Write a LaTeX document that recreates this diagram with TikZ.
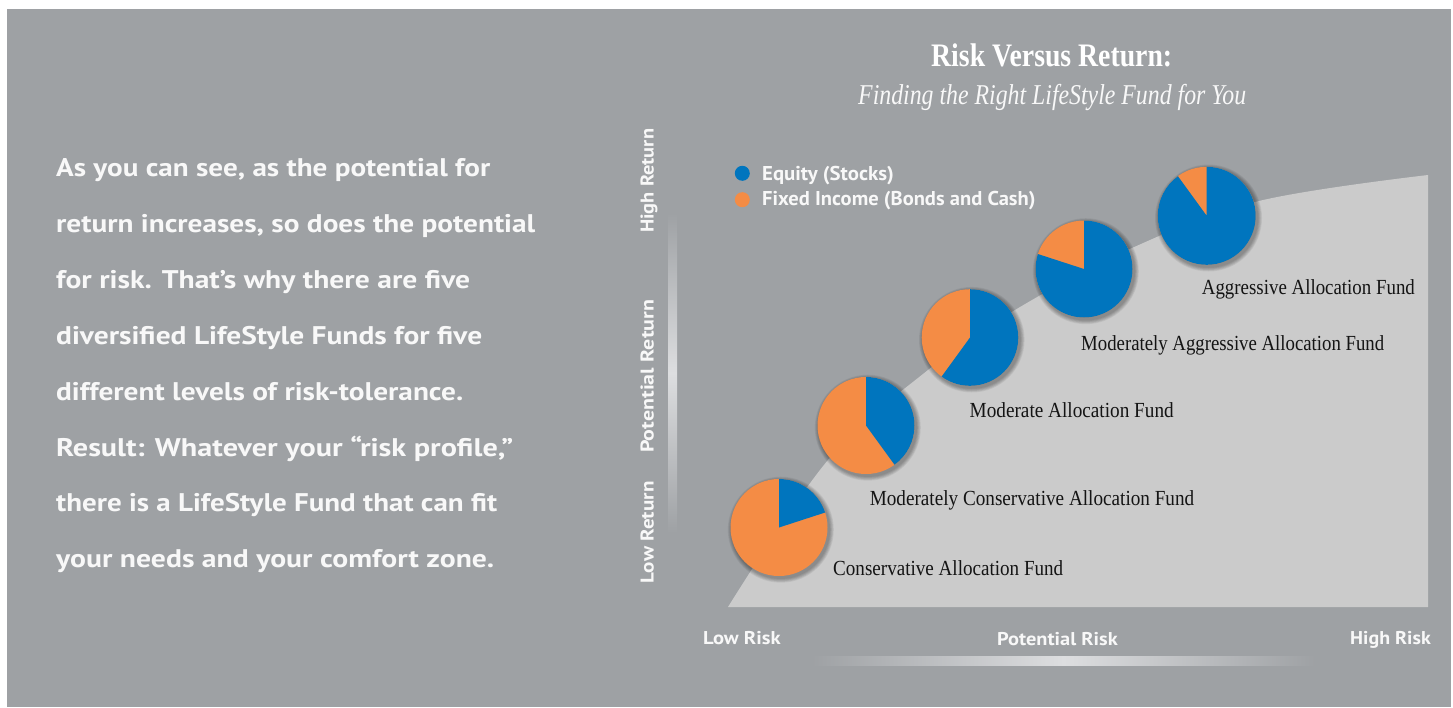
\documentclass[tikz,border=0pt]{standalone}
\usepackage{fontspec}
\usepackage{graphicx}
\setmainfont{Liberation Serif}
\newfontfamily\ptsans{PT Sans}
\definecolor{bg}{HTML}{9EA1A4}
\definecolor{area}{HTML}{CBCBCB}
\definecolor{eqcol}{HTML}{0075BE}
\definecolor{ficol}{HTML}{F48C45}
\definecolor{txt}{HTML}{F8F8F8}
\definecolor{lbl}{HTML}{141414}
\definecolor{barhi}{HTML}{DDDEE0}
\newcommand\fitw[2]{\resizebox{#1}{\height}{#2}}
\newcommand\mypie[5]{%
  \coordinate (#1) at (#2,#3);
  \foreach \k in {1,...,6}{\fill[black,opacity=0.06] (#1) ++(1.8pt,-2.2pt) circle[radius={#4pt+\k*0.75pt}];}
  \fill[ficol] (#1) circle[radius=#4pt];
  \fill[eqcol] (#1) -- ++(90:#4pt) arc[start angle=90, end angle={90-360*#5}, radius=#4pt] -- cycle;
}
\tikzset{
  bodytext/.style={anchor=base west, inner sep=0pt, text=txt, font=\ptsans\bfseries\fontsize{25.5}{30}\selectfont},
  legtext/.style={anchor=base west, inner sep=0pt, text=txt, font=\ptsans\bfseries\fontsize{20}{24}\selectfont},
  axtext/.style={anchor=base west, inner sep=0pt, text=txt, font=\ptsans\bfseries\fontsize{18.5}{22}\selectfont},
  fund/.style={anchor=base west, inner sep=0pt, text=lbl, font=\fontsize{21.5}{24}\selectfont},
}
\begin{document}
\begin{tikzpicture}[x=1pt,y=-1pt]
\useasboundingbox (0,0) rectangle (1453,707);
\fill[white] (0,0) rectangle (1453,707);
\fill[bg] (7,9) rectangle (1451,707);

% light area under the curve
\fill[area] plot[smooth, tension=0.6] coordinates {(728,607) (828,460) (928,370) (1015,310) (1132,248) (1259,201) (1428,175)} -- (1428,607) -- cycle;

% gradient axis bars
\shade[left color=bg, right color=bg, middle color=barhi] (812,656.5) rectangle (1315,665.5);
\shade[top color=bg, bottom color=bg, middle color=barhi] (668,213) rectangle (677,533);

% title
\node[anchor=base west, inner sep=0pt, text=white, font=\bfseries\fontsize{32.8}{36}\selectfont] (title) at (931,66.7) {\fitw{241pt}{Risk Versus Return:}};
\node[anchor=base west, inner sep=0pt, text=txt, font=\itshape\fontsize{28.7}{32}\selectfont] (subtitle) at (858,104) {\fitw{388pt}{Finding the Right LifeStyle Fund for You}};

% left paragraph
\node[bodytext] (l1) at (56,176) {\fitw{434pt}{As you can see, as the potential for}};
\node[bodytext] (l2) at (56,232) {\fitw{479pt}{return increases, so does the potential}};
\node[bodytext] (l3) at (56,288) {\fitw{414pt}{for risk. That’s why there are five}};
\node[bodytext] (l4) at (56,344) {\fitw{426pt}{diversified LifeStyle Funds for five}};
\node[bodytext] (l5) at (56,400) {\fitw{407pt}{different levels of risk-tolerance.}};
\node[bodytext] (l6) at (56,456) {\fitw{457pt}{Result: Whatever your “risk profile,”}};
\node[bodytext] (l7) at (56,511.5) {\fitw{441pt}{there is a LifeStyle Fund that can fit}};
\node[bodytext] (l8) at (56,567) {\fitw{438pt}{your needs and your comfort zone.}};

% legend
\fill[eqcol] (742.3,173.3) circle[radius=7.5pt];
\fill[ficol] (742.3,199.7) circle[radius=7.5pt];
\node[legtext] (leq) at (762,180.7) {\fitw{131.6pt}{Equity (Stocks)}};
\node[legtext] (lfi) at (762,205.5) {\fitw{273.3pt}{Fixed Income (Bonds and Cash)}};

% axis labels
\node[axtext] (lowrisk) at (703,644) {\fitw{77.5pt}{Low Risk}};
\node[axtext] (potrisk) at (997,645) {\fitw{120.6pt}{Potential Risk}};
\node[axtext] (highrisk) at (1350,644) {\fitw{80.6pt}{High Risk}};
\node[axtext, rotate=90] (highret) at (653.5,233) {\fitw{104pt}{High Return}};
\node[axtext, rotate=90] (potret) at (653.5,453) {\fitw{153pt}{Potential Return}};
\node[axtext, rotate=90] (lowret) at (653.5,583.3) {\fitw{101.6pt}{Low Return}};

% pies
\mypie{p1}{779}{527.5}{48.5}{0.2}
\mypie{p2}{866}{425.5}{48.5}{0.4}
\mypie{p3}{970}{337.5}{48.3}{0.6}
\mypie{p4}{1084}{269}{48.5}{0.8}
\mypie{p5}{1206.7}{215.8}{49}{0.9}

% fund labels
\node[fund] (f1) at (833,575) {\fitw{230pt}{Conservative Allocation Fund}};
\node[fund] (f2) at (869.6,505) {\fitw{324.4pt}{Moderately Conservative Allocation Fund}};
\node[fund] (f3) at (969.5,417.7) {\fitw{204pt}{Moderate Allocation Fund}};
\node[fund] (f4) at (1081,350) {\fitw{303pt}{Moderately Aggressive Allocation Fund}};
\node[fund] (f5) at (1201.7,294) {\fitw{213pt}{Aggressive Allocation Fund}};
\end{tikzpicture}
\end{document}
